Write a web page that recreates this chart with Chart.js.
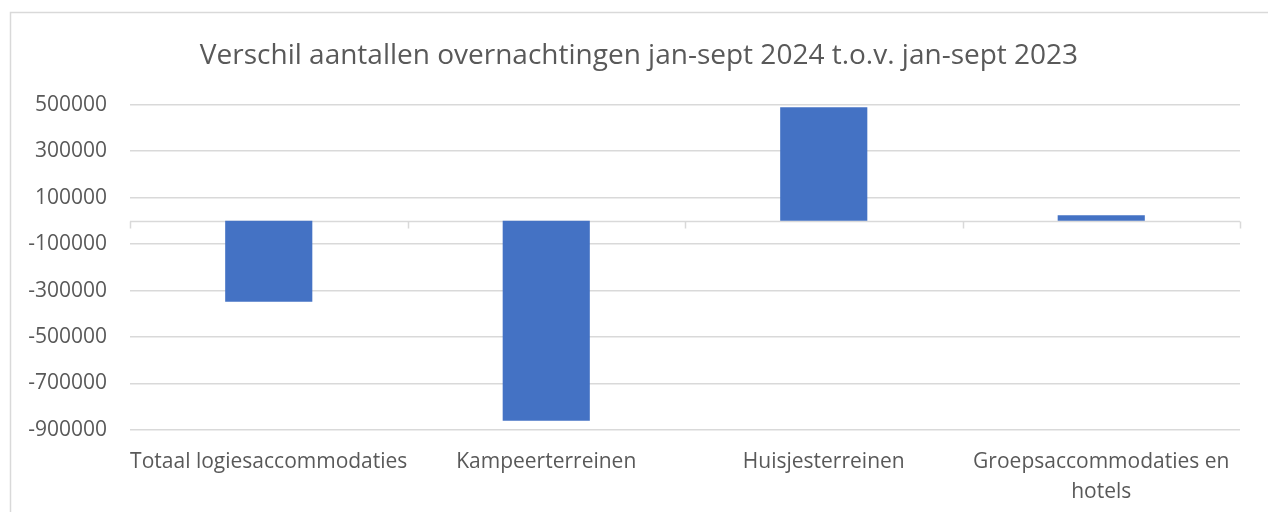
<!DOCTYPE html>
<html><head><meta charset="utf-8">
<script src="https://cdn.jsdelivr.net/npm/chart.js@4.4.0/dist/chart.umd.min.js"></script>
<style>html,body{margin:0;padding:0;background:#fff;}#wrap{width:1268px;height:512px;}</style>
</head><body><div id="wrap"><canvas id="c" width="1268" height="512"></canvas></div>
<script>
const categories = ["Totaal logiesaccommodaties", "Kampeerterreinen", "Huisjesterreinen", ["Groepsaccommodaties en", "hotels"]];
const verschil = [-348000, -860000, 489000, 24000];
const yMin = -900000, yMax = 500000, yStep = 200000;
const chartTitle = "Verschil aantallen overnachtingen jan-sept 2024 t.o.v. jan-sept 2023";

const FONT = '"Open Sans", sans-serif';
const TXT = '#595959';
const GRID = '#d9d9d9';

const framePlugin = {
  id: 'frame',
  afterLayout(chart) {
    if (chart.titleBlock) { chart.titleBlock.left = 38; chart.titleBlock.right = 1240; }
  },
  beforeDraw(chart) {
    const c = chart.ctx;
    c.save();
    c.strokeStyle = GRID; c.lineWidth = 1.5;
    c.beginPath();
    c.moveTo(10.5, chart.height); c.lineTo(10.5, 12.5); c.lineTo(chart.width, 12.5);
    c.stroke();
    c.restore();
  }
};
const zeroPlugin = {
  id: 'zeroLine',
  beforeDatasetsDraw(chart) {
    const c = chart.ctx, x = chart.scales.x, y = chart.scales.y, a = chart.chartArea;
    const y0 = Math.round(y.getPixelForValue(0)) + 0.5;
    c.save();
    c.strokeStyle = GRID; c.lineWidth = 1.5;
    c.beginPath();
    c.moveTo(a.left, y0); c.lineTo(a.right, y0);
    const n = categories.length;
    for (let i = 0; i <= n; i++) {
      const px = Math.round(x.getPixelForValue(i - 0.5)) + 0.5;
      c.moveTo(px, y0); c.lineTo(px, y0 + 7);
    }
    c.stroke();
    c.restore();
  }
};

new Chart(document.getElementById('c'), {
  type: 'bar',
  data: { labels: categories, datasets: [{ data: verschil, backgroundColor: '#4472C4', borderWidth: 0, barPercentage: 0.314, categoryPercentage: 1 }] },
  options: {
    responsive: false, animation: false, devicePixelRatio: 1,
    layout: { padding: { left: 0, right: 28, top: 0, bottom: 0 } },
    plugins: {
      legend: { display: false }, tooltip: { enabled: false },
      title: { display: true, text: chartTitle, color: TXT, font: { family: FONT, size: 28, weight: 'normal', lineHeight: 1.2 }, padding: { top: 39, bottom: 32 } }
    },
    scales: {
      x: {
        grid: { display: false, drawTicks: false }, border: { display: false },
        ticks: { color: TXT, font: { family: FONT, size: 21, lineHeight: 1.43 }, padding: 17, maxRotation: 0, autoSkip: false },
        afterFit(s) { s.height = 82; }
      },
      y: {
        min: yMin, max: yMax,
        grid: { color: GRID, lineWidth: 1.5, drawTicks: false }, border: { display: false },
        ticks: { stepSize: yStep, color: TXT, font: { family: FONT, size: 21 }, padding: 23, callback: v => String(v) },
        afterFit(s) { s.width = 130; }
      }
    }
  },
  plugins: [framePlugin, zeroPlugin]
});
</script>
</body></html>
